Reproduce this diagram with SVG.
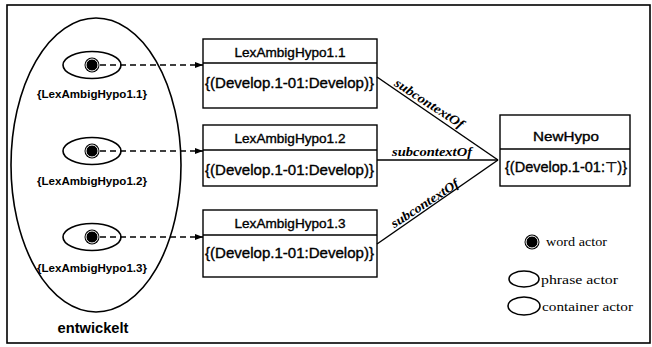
<svg xmlns="http://www.w3.org/2000/svg" width="652" height="347" viewBox="0 0 652 347">
<style>
.frame{fill:none;stroke:#000;stroke-width:1.6}
.shape{fill:#fff;stroke:#000;stroke-width:1.6}
.box{fill:#fff;stroke:#000;stroke-width:1.4}
.div{stroke:#000;stroke-width:1.4}
.title{font-family:"Liberation Sans",Arial,sans-serif;font-size:13px;text-anchor:middle;fill:#000;stroke:#000;stroke-width:0.35}
.content{font-family:"Liberation Sans",Arial,sans-serif;font-size:14px;fill:#000;stroke:#000;stroke-width:0.35}
.lbl{font-family:"Liberation Sans",Arial,sans-serif;font-size:10.5px;font-weight:bold;text-anchor:middle;fill:#000}
.big{font-family:"Liberation Sans",Arial,sans-serif;font-size:14px;font-weight:bold;text-anchor:middle;fill:#000}
.rel{font-family:"Liberation Serif","Times New Roman",serif;font-size:13px;font-style:italic;font-weight:bold;text-anchor:middle;fill:#000}
.leg{font-family:"Liberation Serif","Times New Roman",serif;font-size:13.5px;fill:#000}
.dash{fill:none;stroke:#000;stroke-width:1.6;stroke-dasharray:6,4}
.edge{fill:none;stroke:#000;stroke-width:1.5}
</style>
<defs>
<marker id="arr" markerWidth="8" markerHeight="6" refX="8" refY="3" orient="auto" markerUnits="userSpaceOnUse">
<path d="M0,0 L8,3 L0,6 Z" fill="#000"/>
</marker>
<g id="dot">
<circle r="7.5" fill="#000"/>
<circle r="6" fill="none" stroke="#fff" stroke-width="1"/>
</g>
</defs>

<rect class="frame" x="7" y="5" width="643" height="338"/>

<g id="entwickelt">
<ellipse class="shape" cx="96" cy="165" rx="85" ry="147"/>
<text class="big" x="93" y="333" textLength="71" lengthAdjust="spacingAndGlyphs">entwickelt</text>
</g>

<g id="phrase1">
<ellipse class="shape" cx="92" cy="65" rx="29" ry="13.5"/>
<use href="#dot" x="92" y="65"/>
<text class="lbl" x="92" y="98" textLength="110" lengthAdjust="spacingAndGlyphs">{LexAmbigHypo1.1}</text>
</g>
<g id="phrase2">
<ellipse class="shape" cx="92" cy="151" rx="29" ry="13.5"/>
<use href="#dot" x="92" y="151"/>
<text class="lbl" x="92" y="185" textLength="110" lengthAdjust="spacingAndGlyphs">{LexAmbigHypo1.2}</text>
</g>
<g id="phrase3">
<ellipse class="shape" cx="92" cy="237" rx="29" ry="13.5"/>
<use href="#dot" x="92" y="237"/>
<text class="lbl" x="92" y="272" textLength="110" lengthAdjust="spacingAndGlyphs">{LexAmbigHypo1.3}</text>
</g>

<g id="hypo11">
<rect class="box" x="203" y="39" width="174" height="69"/>
<line class="div" x1="203" y1="63" x2="377" y2="63"/>
<text class="title" x="290" y="57" textLength="111" lengthAdjust="spacingAndGlyphs">LexAmbigHypo1.1</text>
<text class="content" x="205" y="88" textLength="169" lengthAdjust="spacingAndGlyphs">{(Develop.1-01:Develop)}</text>
</g>
<g id="hypo12">
<rect class="box" x="203" y="125" width="174" height="61"/>
<line class="div" x1="203" y1="150" x2="377" y2="150"/>
<text class="title" x="290" y="143" textLength="111" lengthAdjust="spacingAndGlyphs">LexAmbigHypo1.2</text>
<text class="content" x="205" y="175" textLength="169" lengthAdjust="spacingAndGlyphs">{(Develop.1-01:Develop)}</text>
</g>
<g id="hypo13">
<rect class="box" x="203" y="210" width="174" height="67"/>
<line class="div" x1="203" y1="235" x2="377" y2="235"/>
<text class="title" x="290" y="228" textLength="111" lengthAdjust="spacingAndGlyphs">LexAmbigHypo1.3</text>
<text class="content" x="205" y="258" textLength="169" lengthAdjust="spacingAndGlyphs">{(Develop.1-01:Develop)}</text>
</g>

<g id="newhypo">
<rect class="box" x="500" y="115" width="130" height="71"/>
<line class="div" x1="500" y1="149" x2="630" y2="149"/>
<text class="title" x="566" y="141" textLength="66" lengthAdjust="spacingAndGlyphs">NewHypo</text>
<text class="content" x="505" y="172" textLength="122" lengthAdjust="spacingAndGlyphs">{(Develop.1-01:⊤)}</text>
</g>

<g id="connectors">
<line class="dash" x1="100" y1="65" x2="203" y2="65" marker-end="url(#arr)"/>
<line class="dash" x1="100" y1="151" x2="203" y2="151" marker-end="url(#arr)"/>
<line class="dash" x1="100" y1="237" x2="203" y2="237" marker-end="url(#arr)"/>
<line class="edge" x1="377" y1="77" x2="498" y2="160"/>
<line class="edge" x1="377" y1="160" x2="498" y2="160"/>
<line class="edge" x1="377" y1="244" x2="498" y2="160"/>
<text class="rel" transform="translate(427,107) rotate(33)" textLength="80" lengthAdjust="spacingAndGlyphs">subcontextOf</text>
<text class="rel" x="432" y="156" textLength="80" lengthAdjust="spacingAndGlyphs">subcontextOf</text>
<text class="rel" transform="translate(427,207) rotate(-33)" textLength="78" lengthAdjust="spacingAndGlyphs">subcontextOf</text>
</g>

<g id="legend">
<use href="#dot" x="532" y="242"/>
<text class="leg" x="546" y="246" textLength="61" lengthAdjust="spacingAndGlyphs">word actor</text>
<ellipse class="shape" cx="524" cy="279" rx="15" ry="8"/>
<text class="leg" x="541" y="284" textLength="77" lengthAdjust="spacingAndGlyphs">phrase actor</text>
<ellipse class="shape" cx="524" cy="306" rx="16" ry="9"/>
<text class="leg" x="542" y="311" textLength="91" lengthAdjust="spacingAndGlyphs">container actor</text>
</g>
</svg>
